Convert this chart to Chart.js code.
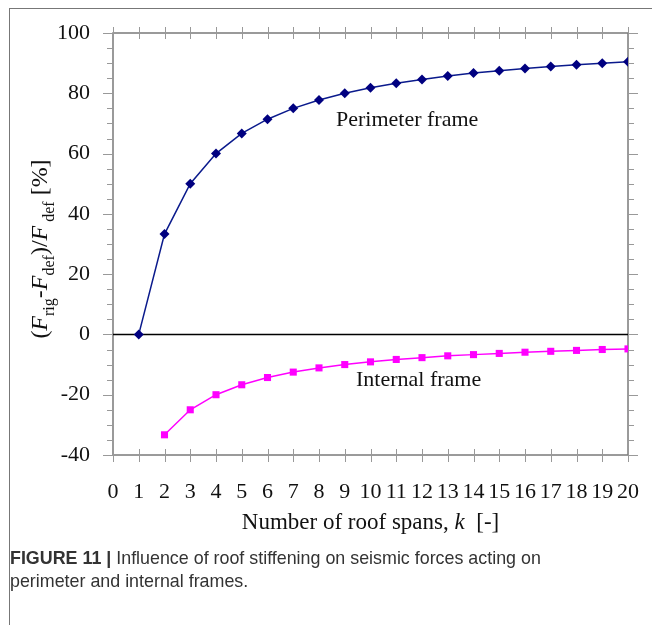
<!DOCTYPE html>
<html>
<head>
<meta charset="utf-8">
<script src="https://cdn.jsdelivr.net/npm/chart.js@4"></script>
<style>
  html, body { margin: 0; padding: 0; background: #fff; }
  #wrap { position: absolute; left: 0; top: 0; width: 652px; height: 625px; }
  #frame { position: absolute; left: 9px; top: 8px; width: 660px; height: 640px; border-top: 1.5px solid #777; border-left: 1.5px solid #777; }
  #cv { position: absolute; left: 0; top: 0; }
  .cap { position: absolute; left: 10px; font-family: "Liberation Sans", Arial, sans-serif; font-size: 19px; color: #333; transform-origin: 0 0; transform: scaleX(0.94); white-space: nowrap; }
</style>
</head>
<body>
<div id="wrap">
  <div id="frame"></div>
  <canvas id="cv" width="652" height="625"></canvas>
  <div class="cap" style="top:547px;"><b>FIGURE 11 |</b> Influence of roof stiffening on seismic forces acting on</div>
  <div class="cap" style="top:570px;">perimeter and internal frames.</div>
</div>
<script>
// ---- data ----
const perimeterK = [1, 2, 3, 4, 5, 6, 7, 8, 9, 10, 11, 12, 13, 14, 15, 16, 17, 18, 19, 20];
const perimeterVals = [0, 33.3, 50, 60, 66.7, 71.4, 75, 77.8, 80, 81.8, 83.3, 84.6, 85.7, 86.7, 87.5, 88.2, 88.9, 89.5, 90, 90.5];
const internalK = [2, 3, 4, 5, 6, 7, 8, 9, 10, 11, 12, 13, 14, 15, 16, 17, 18, 19, 20];
const internalVals = [-33.3, -25, -20, -16.7, -14.3, -12.5, -11.1, -10, -9.1, -8.3, -7.7, -7.1, -6.7, -6.3, -5.9, -5.6, -5.3, -5.0, -4.8];
const xTicks = [0, 1, 2, 3, 4, 5, 6, 7, 8, 9, 10, 11, 12, 13, 14, 15, 16, 17, 18, 19, 20];
const yTicks = [-40, -20, 0, 20, 40, 60, 80, 100];
const yMinorStep = 5;
const seriesNames = ["Perimeter frame", "Internal frame"];
const xTitle = "Number of roof spans, ";

const SERIF = '"Liberation Serif", "Times New Roman", serif';

const decor = {
  id: 'decor',
  beforeDatasetsDraw(chart) {
    const ctx = chart.ctx, a = chart.chartArea;
    const xs = chart.scales.x, ys = chart.scales.y;
    ctx.save();
    ctx.strokeStyle = '#7a7a7a';
    ctx.lineWidth = 1.5;
    ctx.strokeRect(a.left, a.top, a.right - a.left, a.bottom - a.top);
    ctx.lineWidth = 1;
    ctx.strokeStyle = '#999';
    ctx.beginPath();
    xTicks.forEach(v => {
      const px = Math.round(xs.getPixelForValue(v)) + 0.5;
      ctx.moveTo(px, a.top - 6); ctx.lineTo(px, a.top + 6);
      ctx.moveTo(px, a.bottom - 6); ctx.lineTo(px, a.bottom + 7);
    });
    for (let v = -40; v <= 100; v += yMinorStep) {
      const py = Math.round(ys.getPixelForValue(v)) + 0.5;
      const major = (v % 20 === 0);
      const len = major ? 10 : 6;
      ctx.moveTo(a.left - len, py); ctx.lineTo(a.left, py);
      ctx.moveTo(a.right, py); ctx.lineTo(a.right + len, py);
    }
    ctx.stroke();
    const y0 = Math.round(ys.getPixelForValue(0)) + 0.5;
    ctx.strokeStyle = '#000';
    ctx.lineWidth = 1.5;
    ctx.beginPath();
    ctx.moveTo(a.left, y0); ctx.lineTo(a.right, y0);
    ctx.stroke();
    ctx.restore();
  },
  afterDraw(chart) {
    const ctx = chart.ctx, a = chart.chartArea;
    ctx.save();
    ctx.fillStyle = '#111';
    ctx.textBaseline = 'middle';
    ctx.textAlign = 'left';
    ctx.font = '22px ' + SERIF;
    ctx.fillText(seriesNames[0], 336, 120);
    ctx.fillText(seriesNames[1], 356, 380);
    // x title
    ctx.textBaseline = 'alphabetic';
    ctx.font = '23px ' + SERIF;
    const w1 = ctx.measureText(xTitle).width;
    ctx.font = 'italic 23px ' + SERIF;
    const w2 = ctx.measureText('k').width;
    ctx.font = '23px ' + SERIF;
    const w3 = ctx.measureText('  [-]').width;
    const cx = (a.left + a.right) / 2;
    let x = cx - (w1 + w2 + w3) / 2;
    const yb = 529;
    ctx.fillText(xTitle, x, yb); x += w1;
    ctx.font = 'italic 23px ' + SERIF; ctx.fillText('k', x, yb); x += w2;
    ctx.font = '23px ' + SERIF; ctx.fillText('  [-]', x, yb);
    // y title rotated
    const parts = [
      ['(', '24px', 0], ['F', 'italic 24px', 0], ['rig', '16px', 7],
      ['-', '24px', 0], ['F', 'italic 24px', 0], ['def', '16px', 7],
      [')/', '24px', 0], ['F', 'italic 24px', 0], [' def', '16px', 7], [' [%]', '24px', 0]
    ];
    let total = 0;
    parts.forEach(p => { ctx.font = p[1] + ' ' + SERIF; p.push(ctx.measureText(p[0]).width); total += p[3]; });
    ctx.translate(47, 249);
    ctx.rotate(-Math.PI / 2);
    let px = -total / 2;
    parts.forEach(p => {
      ctx.font = p[1] + ' ' + SERIF;
      ctx.fillText(p[0], px, p[2]);
      px += p[3];
    });
    ctx.restore();
  }
};

new Chart(document.getElementById('cv'), {
  type: 'line',
  data: {
    datasets: [
      {
        label: seriesNames[0],
        data: perimeterK.map((k, i) => ({ x: k, y: perimeterVals[i] })),
        borderColor: '#0a1a8c',
        backgroundColor: '#000080',
        borderWidth: 1.5,
        pointStyle: 'rectRot',
        pointRadius: 5,
        pointBorderWidth: 0,
        tension: 0
      },
      {
        label: seriesNames[1],
        data: internalK.map((k, i) => ({ x: k, y: internalVals[i] })),
        borderColor: '#ff00ff',
        backgroundColor: '#ff00ff',
        borderWidth: 1.5,
        pointStyle: 'rect',
        pointRadius: 5,
        pointBorderWidth: 0,
        tension: 0
      }
    ]
  },
  options: {
    responsive: false,
    animation: false,
    events: [],
    layout: { padding: { left: 0, right: 24, top: 33, bottom: 0 } },
    plugins: { legend: { display: false }, tooltip: { enabled: false } },
    scales: {
      x: {
        type: 'linear', min: 0, max: 20,
        afterBuildTicks: s => { s.ticks = xTicks.map(v => ({ value: v })); },
        afterFit: s => { s.height = 170; s.paddingLeft = 0; s.paddingRight = 0; },
        grid: { display: false },
        border: { display: false },
        ticks: { font: { family: SERIF, size: 22 }, color: '#111', padding: 16, maxRotation: 0, autoSkip: false }
      },
      y: {
        type: 'linear', min: -40, max: 100,
        afterBuildTicks: s => { s.ticks = yTicks.map(v => ({ value: v })); },
        afterFit: s => { s.width = 113; s.paddingTop = 0; s.paddingBottom = 0; },
        grid: { display: false },
        border: { display: false },
        ticks: { font: { family: SERIF, size: 22 }, color: '#111', padding: 15 }
      }
    }
  },
  plugins: [decor]
});
</script>
</body>
</html>
